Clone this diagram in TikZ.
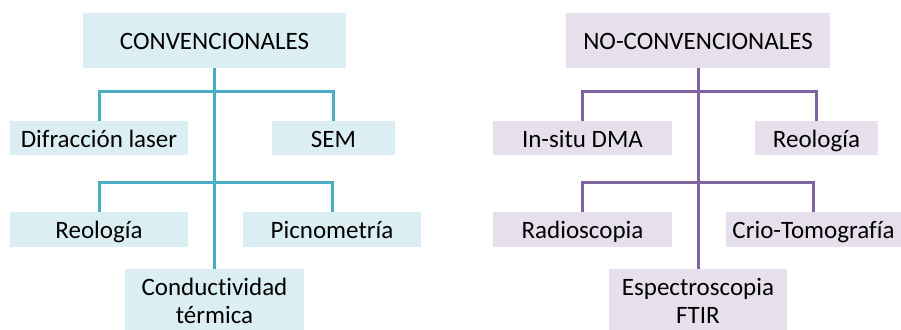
\documentclass[tikz,border=0pt]{standalone}
\usepackage{fontspec}
\setmainfont{Carlito}[Ligatures=NoCommon]
\definecolor{convline}{HTML}{4BACC6}
\definecolor{convfill}{HTML}{DAEEF3}
\definecolor{noconvline}{HTML}{8064A2}
\definecolor{noconvfill}{HTML}{E5E0EC}
\begin{document}
\begin{tikzpicture}
[
    x=1pt, y=-1pt,
    mybox/.style={rectangle,inner sep=0pt,align=center,text height=20pt,text depth=2pt,
                  font=\fontsize{25}{28}\selectfont},
    convbox/.style={mybox,fill=convfill},
    noconvbox/.style={mybox,fill=noconvfill},
    twolines/.style={text height=48pt,text depth=2pt,minimum height=62pt},
    convlink/.style={convline,line width=3pt},
    noconvlink/.style={noconvline,line width=3pt},
]
\useasboundingbox (0,0) rectangle (901,329);
\clip (0,0) rectangle (901,329);

% convencionales
\node (conv) at (214.5,40.5) [convbox,minimum width=263pt,minimum height=55pt] {CONVENCIONALES};
\node (difr) at (99,138) [convbox,minimum width=178pt,minimum height=34pt] {Difracción laser};
\node (sem) at (333.5,138) [convbox,minimum width=123pt,minimum height=34pt] {SEM};
\node (reo1) at (99,229.5) [convbox,minimum width=178pt,minimum height=35pt] {Reología};
\node (picno) at (332,229.5) [convbox,minimum width=178pt,minimum height=35pt] {Picnometría};
\node (cond) at (214.5,300) [convbox,twolines,minimum width=179pt] {Conductividad\\térmica};

\coordinate (c1) at (214.5,91);
\coordinate (c2) at (214.5,182);
\draw[convlink] (conv.south) -- (cond.north);
\draw[convlink] (difr.north) |- (c1) -| (sem.north);
\draw[convlink] (reo1.north) |- (c2) -| (picno.north);

% no-convencionales
\node (noconv) at (698,40.5) [noconvbox,minimum width=264pt,minimum height=55pt] {NO-CONVENCIONALES};
\node (insitu) at (582.5,138) [noconvbox,minimum width=179pt,minimum height=34pt] {In-situ DMA};
\node (reo2) at (816.5,138) [noconvbox,minimum width=123pt,minimum height=34pt] {Reología};
\node (radio) at (582.5,229.5) [noconvbox,minimum width=179pt,minimum height=35pt] {Radioscopia};
\node (crio) at (813.5,229.5) [noconvbox,minimum width=175pt,minimum height=35pt] {Crio-Tomografía};
\node (espec) at (698,300) [noconvbox,twolines,minimum width=178pt] {Espectroscopia\\FTIR};

\coordinate (n1) at (698,91);
\coordinate (n2) at (698,182);
\draw[noconvlink] (noconv.south) -- (espec.north);
\draw[noconvlink] (insitu.north) |- (n1) -| (reo2.north);
\draw[noconvlink] (radio.north) |- (n2) -| (crio.north);
\end{tikzpicture}
\end{document}
